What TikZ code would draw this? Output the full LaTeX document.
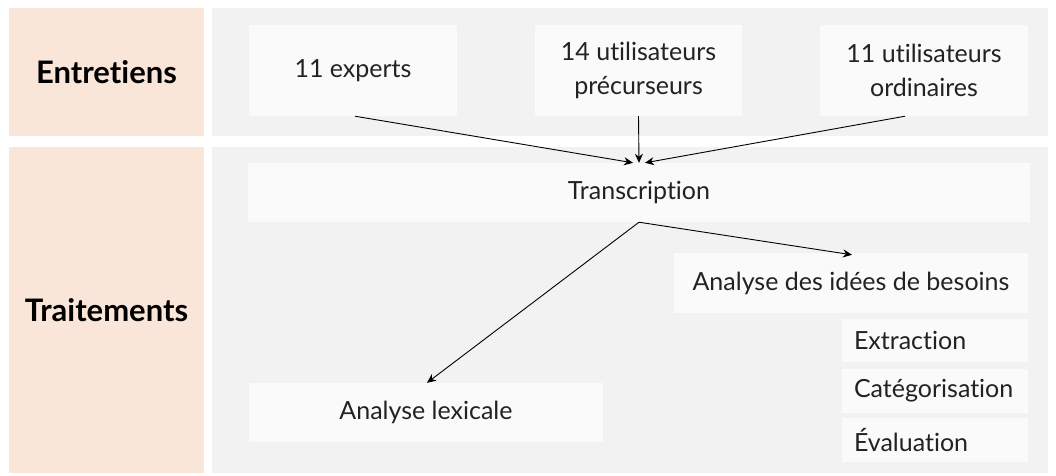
\documentclass[tikz,border=0pt]{standalone}
\usepackage{fontspec}
\setmainfont{Lato}[Ligatures={NoCommon}]
\usetikzlibrary{arrows.meta}
\definecolor{peach}{HTML}{FAE5D9}
\definecolor{panel}{HTML}{F2F2F2}
\definecolor{inner}{HTML}{FAFAFA}
\definecolor{ink}{HTML}{222222}
\tikzset{
  lab/.style={fill=peach, inner sep=0pt, text=black, font=\bfseries\fontsize{31}{35}\selectfont},
  pane/.style={fill=panel, inner sep=0pt},
  ibox/.style={fill=inner, inner sep=0pt, text=ink, align=center, font=\fontsize{25}{34}\selectfont},
  sbox/.style={ibox, text width=#1, align=left, execute at begin node={\hyphenpenalty=10000\exhyphenpenalty=10000}},
  conn/.style={draw=black, line width=0.9pt, -{Stealth[length=9pt,width=8pt]}}
}
\begin{document}
\begin{tikzpicture}[x=1pt,y=-1pt]
\useasboundingbox (0,0) rectangle (1056,475);
\fill[white] (0,0) rectangle (1056,475);
% left labels
\node[lab, minimum width=195pt, minimum height=128pt] (entr) at (106.5,72) {Entretiens};
\node[lab, minimum width=195pt, minimum height=326pt] (trait) at (106.5,310) {Traitements};
% panels
\node[pane, minimum width=836pt, minimum height=128pt] (p1) at (630,72) {};
\node[pane, minimum width=836pt, minimum height=326pt] (p2) at (630,310) {};
% top boxes
\node[ibox, minimum width=208pt, minimum height=91pt] (exp) at (353,70.5) {11 experts};
\node[ibox, minimum width=207pt, minimum height=91pt] (prec) at (638.5,70.5) {14 utilisateurs\\précurseurs};
\node[ibox, minimum width=208pt, minimum height=91pt] (ord) at (924,70.5) {11 utilisateurs\\ordinaires};
% lower boxes
\node[ibox, minimum width=782pt, minimum height=59pt] (trans) at (639,192.5) {Transcription};
\node[ibox, minimum width=354pt, minimum height=60pt] (idees) at (851,283) {Analyse des idées de besoins};
\node[ibox, minimum width=354pt, minimum height=59pt] (lex) at (426,412.5) {Analyse lexicale};
\node[sbox=162pt, minimum width=186pt, minimum height=43pt] (extr) at (935,340.5) {Extraction};
\node[sbox=162pt, minimum width=186pt, minimum height=44pt] (cat) at (935,391) {Catégorisation};
\node[sbox=162pt, minimum width=186pt, minimum height=44pt] (eval) at (935,440) {Évaluation};
% connectors
\draw[conn] ([xshift=2pt]exp.south) -- ([xshift=-6pt]trans.north);
\draw[conn] (prec.south) -- (trans.north);
\draw[conn] ([xshift=-19pt]ord.south) -- ([xshift=6pt]trans.north);
\draw[conn, -] (trans.south) -- coordinate[pos=0] (split) ([xshift=1pt]trans.south);
\draw[conn] (split) -- ([xshift=1pt,yshift=-2pt]idees.north);
\draw[conn] (split) -- ([xshift=1pt]lex.north);
\end{tikzpicture}
\end{document}
